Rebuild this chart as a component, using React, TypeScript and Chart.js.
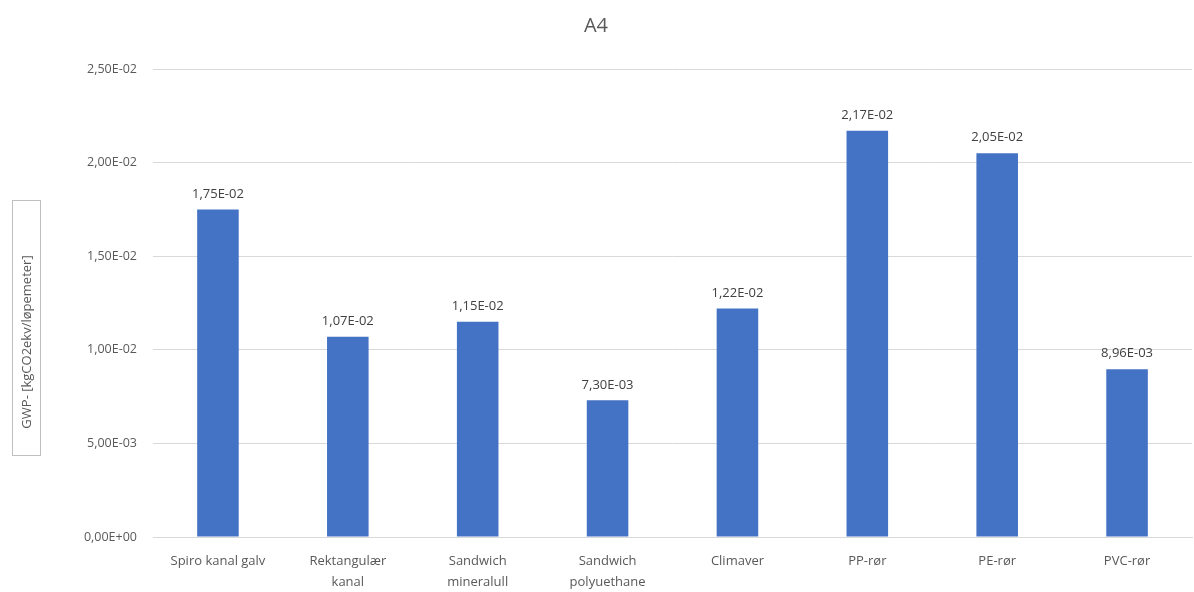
import React, { useEffect, useRef } from "react";
import { Chart, registerables } from "chart.js";

Chart.register(...registerables);

const categories: (string | string[])[] = [
  "Spiro kanal galv",
  ["Rektangulær", "kanal"],
  ["Sandwich", "mineralull"],
  ["Sandwich", "polyuethane"],
  "Climaver",
  "PP-rør",
  "PE-rør",
  "PVC-rør",
];
const values = [0.0175, 0.0107, 0.0115, 0.0073, 0.0122, 0.0217, 0.0205, 0.00896];
const valueLabels = ["1,75E-02", "1,07E-02", "1,15E-02", "7,30E-03", "1,22E-02", "2,17E-02", "2,05E-02", "8,96E-03"];
const chartTitle = "A4";
const yAxisTitle = "GWP- [kgCO2ekv/løpemeter]";

const FONT = "'Open Sans', 'Noto Sans', sans-serif";
const TEXT = "#595959";

function sci(v: number): string {
  if (v === 0) return "0,00E+00";
  const [m, e] = v.toExponential(2).split("e");
  const exp = parseInt(e, 10);
  const sign = exp < 0 ? "-" : "+";
  const abs = Math.abs(exp).toString().padStart(2, "0");
  return m.replace(".", ",") + "E" + sign + abs;
}

const labelPlugin = {
  id: "valueLabels",
  afterDatasetsDraw(chart: any) {
    const ctx = chart.ctx;
    const meta = chart.getDatasetMeta(0);
    ctx.save();
    ctx.font = `13px ${FONT}`;
    ctx.fillStyle = "#404040";
    ctx.textAlign = "center";
    ctx.textBaseline = "bottom";
    meta.data.forEach((el: any, i: number) => {
      ctx.fillText(valueLabels[i], el.x, el.y - 9);
    });
    ctx.restore();
  },
};

const yTitlePlugin = {
  id: "yTitleBox",
  afterDraw(chart: any) {
    const ctx = chart.ctx;
    ctx.save();
    ctx.strokeStyle = "#bfbfbf";
    ctx.lineWidth = 1;
    ctx.strokeRect(12.5, 200.5, 28, 255);
    ctx.translate(27, 342);
    ctx.rotate(-Math.PI / 2);
    ctx.font = `13px ${FONT}`;
    ctx.fillStyle = TEXT;
    ctx.textAlign = "center";
    ctx.textBaseline = "middle";
    ctx.fillText(yAxisTitle, 0, 0);
    ctx.restore();
  },
};

export default function App() {
  const ref = useRef<HTMLCanvasElement>(null);
  useEffect(() => {
    document.body.style.margin = "0";
    const chart = new Chart(ref.current!, {
      type: "bar",
      data: {
        labels: categories as any,
        datasets: [
          {
            data: values,
            backgroundColor: "#4472C4",
            categoryPercentage: 1,
            barPercentage: 0.32,
          },
        ],
      },
      options: {
        animation: false,
        responsive: false,
        maintainAspectRatio: false,
        layout: { padding: { left: 0, right: 2, top: 0, bottom: 0 } },
        plugins: {
          legend: { display: false },
          tooltip: { enabled: false },
          title: {
            display: true,
            text: chartTitle,
            color: TEXT,
            font: { family: FONT, size: 20, weight: "normal" as any },
            padding: { top: 14, bottom: 31 },
          },
        },
        scales: {
          x: {
            grid: { display: false, drawTicks: false },
            border: { display: true, color: "#d9d9d9" },
            ticks: {
              color: TEXT,
              font: { family: FONT, size: 13, lineHeight: 1.6 },
              padding: 14,
              maxRotation: 0,
              autoSkip: false,
            },
            afterFit(scale: any) {
              scale.height = 55;
            },
          },
          y: {
            min: 0,
            max: 0.025,
            grid: { color: "#d9d9d9", drawTicks: false },
            border: { display: false },
            ticks: {
              stepSize: 0.005,
              color: TEXT,
              font: { family: FONT, size: 12.5 },
              padding: 16,
              callback: (v: any) => sci(Number(v)),
            },
            afterFit(scale: any) {
              scale.width = 153;
            },
          },
        },
      },
      plugins: [labelPlugin, yTitlePlugin],
    });
    return () => chart.destroy();
  }, []);
  return (
    <div style={{ width: 1194, height: 592 }}>
      <canvas ref={ref} width={1194} height={592} style={{ display: "block" }} />
    </div>
  );
}
